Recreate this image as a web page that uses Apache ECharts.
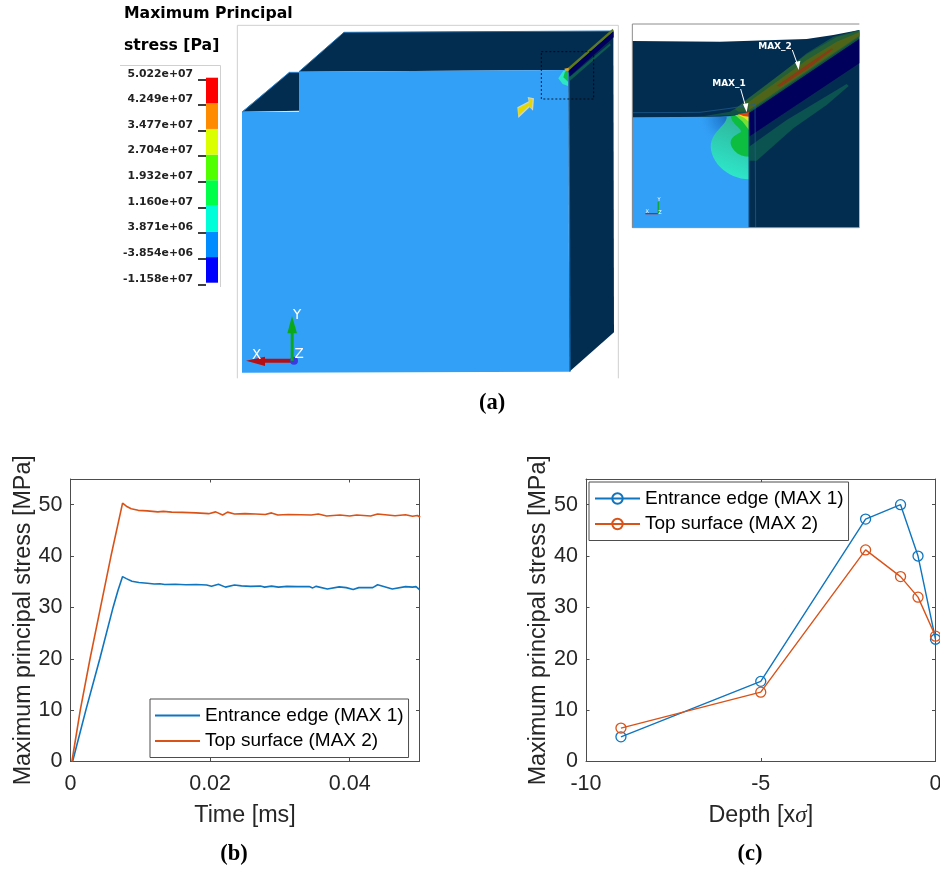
<!DOCTYPE html>
<html><head><meta charset="utf-8">
<script src="https://cdn.jsdelivr.net/npm/echarts@6/dist/echarts.min.js"></script>
<style>html,body{margin:0;padding:0;background:#fff}#c{width:940px;height:870px}</style></head>
<body><div id="c"></div>
<script>
const seriesNames = ['Entrance edge (MAX 1)', 'Top surface (MAX 2)'];
const timeEntrance = [0.0003,0.0022,0.0042,0.0061,0.0068,0.00746,0.0080,0.0088,0.0098,0.011,0.012,0.0128,0.0135,0.015,0.0165,0.018,0.0195,0.0202,0.0212,0.0222,0.0235,0.0245,0.0258,0.0272,0.0278,0.0288,0.0298,0.031,0.0325,0.0342,0.0347,0.0352,0.0368,0.0385,0.0395,0.0405,0.0413,0.0433,0.044,0.0461,0.048,0.049,0.0495,0.05];
const stressEntrance = [0,10,20,30,33.3,36,35.6,35.1,34.85,34.7,34.55,34.6,34.45,34.5,34.4,34.45,34.35,34.1,34.5,33.95,34.35,34.2,34.1,34.15,33.95,34.15,33.95,34.1,34.05,34.05,33.8,34.1,33.6,34.0,33.85,33.5,33.85,33.85,34.4,33.6,34.05,33.95,34.05,33.45];
const timeTop = [0.0002,0.0014,0.0028,0.0043,0.0058,0.00746,0.0080,0.0087,0.0097,0.011,0.0125,0.0133,0.0145,0.016,0.018,0.0198,0.0208,0.0218,0.0225,0.0235,0.025,0.0265,0.0279,0.0288,0.0297,0.0312,0.0330,0.0345,0.0355,0.0367,0.0386,0.04,0.0410,0.043,0.044,0.0465,0.048,0.049,0.0497,0.0501];
const stressTop = [0,10,20,30,40,50.3,49.7,49.2,48.9,48.8,48.6,48.7,48.55,48.5,48.4,48.25,48.6,48.0,48.55,48.2,48.25,48.2,48.1,48.4,48.0,48.1,48.05,48.0,48.2,47.8,48.0,47.8,48.0,47.8,48.2,47.85,48.05,47.75,47.9,47.55];
const depthSigma = [-9,-5,-2,-1,-0.5,0];
const depthEntrance = [4.8,15.6,47.2,50,40,23.8];
const depthTop = [6.5,13.5,41.2,36,32,24.4];
const colorbarLabels = ['-1.158e+07','-3.854e+06','3.871e+06','1.160e+07','1.932e+07','2.704e+07','3.477e+07','4.249e+07','5.022e+07'];
const colorbarColors = ['#0000ff','#008cff','#00ffd8','#00ff48','#52ff00','#dcff00','#ff8c00','#ff0000'];
const colorbarBands = [1,1,1,1,1,1,1,1];

const BLUE='#0f75bf', ORANGE='#d95319', INK='#262626', AX='#4d4d4d', SANS='"Liberation Sans",Arial,sans-serif';
const zip=(a,b)=>a.map((v,i)=>[v,b[i]]);
const depthTag='depth: ';

// ---- illustration (a): pixel helpers for main render and inset
const m=p=>p.map(([x,y])=>[230+x/3,20+y/3]);
const n=p=>p.map(([x,y])=>[620+x/3,15+y/3]);
const bez=(a,b,c,d)=>{const o=[];for(let i=0;i<=14;i++){const t=i/14,u=1-t;o.push([u*u*u*a[0]+3*u*u*t*b[0]+3*u*t*t*c[0]+t*t*t*d[0],u*u*u*a[1]+3*u*u*t*b[1]+3*u*t*t*c[1]+t*t*t*d[1]]);}return o;};
const poly=(pts,fill,extra)=>Object.assign({type:'polygon',silent:true,shape:{points:pts},style:{fill}},extra||{});
const pline=(pts,stroke,w,dash)=>({type:'polyline',silent:true,shape:{points:pts},style:{stroke,lineWidth:w,fill:null,lineDash:dash||null}});
const txt=(x,y,t,font,fill,align)=>({type:'text',silent:true,x,y,style:{text:t,font,fill:fill||'#000',align:align||'center',verticalAlign:'middle'}});
const DK='#032d50', FACE='#33a0f7', NAVY='#00005c';

const graphics=[
  // frames
  pline([[120,65.5],[220.5,65.5],[220.5,287]],'#d0d0d0',1),
  pline(m([[22,1075],[22,16],[1165,16],[1165,1075]]),'#cfcfcf',1),
  txt(124,13.5,'Maximum Principal','bold 15.7px "DejaVu Sans"','#000','left'),
  txt(124,45.5,'stress [Pa]','bold 15.7px "DejaVu Sans"','#000','left'),
  // main block
  poly(m([[36,275],[178,157],[207,157],[207,272]]),DK),
  poly(m([[207,155],[342,37],[1150,33],[1015,150]]),DK),
  poly(m([[1015,150],[1150,33],[1152,937],[1018,1055]]),DK),
  poly(m([[36,275],[207,275],[207,155],[1015,150],[1018,1055],[36,1058]]),FACE),
  pline(m([[36,277],[178,157],[207,157]]),'#2a86cf',1),
  pline(m([[207,155],[342,37],[1150,33]]),'#1f70b0',1),
  pline(m([[1017,150],[1020,1055]]),'#1a6aa8',1.2),
  // hot strip in main block
  poly(m([[1010,147],[1148,26],[1151,32],[1016,152]]),'#5f7a1c'),
  poly(m([[1016,152],[1151,34],[1151,52],[1018,170]]),NAVY),
  poly(m([[1018,172],[1140,70],[1142,76],[1020,182]]),'#0e5a50'),
  poly(m([[985,175],[1000,152],[1014,150],[1014,198],[998,192]]),'#2ee6c6'),
  poly(m([[1000,172],[1005,155],[1014,150],[1014,185]]),'#11c04a'),
  poly(m([[1003,146],[1016,143],[1016,152],[1005,152]]),'#e8a020'),
  pline(m([[934,95],[1091,95],[1091,237],[934,237],[934,95]]),'#000',0.8,[2,2]),
  // yellow arrow
  poly(m([[862,262],[896,244],[893,231],[912,235],[909,272],[899,262],[865,294]]),'#cfd6c0'),
  poly(m([[865,264],[898,247],[896,235],[908,238],[905,268],[897,258],[865,287]]),'#e4d800'),
  // triad
  poly(m([[48,1022],[105,1010],[105,1016],[186,1016],[186,1028],[105,1028],[105,1038]]),'#b40f14'),
  {type:'circle',silent:true,shape:{cx:230+192/3,cy:20+1022/3,r:4},style:{fill:'#3a3adf'}},
  poly(m([[182,1022],[182,940],[172,940],[186,888],[201,940],[191,940],[191,1022]]),'#0ca81c'),
  txt(230+201/3,20+887/3,'Y','13.5px "DejaVu Sans"','#fff'),
  txt(230+80/3,20+1005/3,'X','13.5px "DejaVu Sans"','#fff'),
  txt(230+207/3,20+1003/3,'Z','13.5px "DejaVu Sans"','#fff'),

  // inset
  poly(n([[37,78],[300,80],[560,72],[640,60],[718,45],[718,638],[37,638]]),DK),
  poly(n([[37,307],[300,305],[387,300],[387,638],[37,638]]),FACE),
  {type:'polygon',silent:true,shape:{points:n([[180,305],[325,305],[325,400],[180,400]])},
   style:{fill:{type:'radial',x:1,y:0,r:1,colorStops:[{offset:0,color:'#1668b8'},{offset:0.5,color:'rgba(34,128,214,0.6)'},{offset:1,color:'rgba(51,160,247,0)'}]}}},
  {type:'polygon',silent:true,shape:{points:n([...bez([320,305],[322,330],[272,350],[272,395]),...bez([272,395],[275,450],[330,492],[387,493]),[387,300]])},
   style:{fill:{type:'linear',x:0,y:1,x2:0.6,y2:0.1,colorStops:[{offset:0,color:'#2ef0d2'},{offset:1,color:'#2fb89e'}]}}},
  poly(n([...bez([332,302],[335,330],[368,340],[362,352]),...bez([362,352],[340,362],[325,375],[335,395]),...bez([335,395],[345,415],[365,425],[387,425]),[387,300]]),'#0dbd3f'),
  poly(n([[345,300],[387,295],[387,345],[368,320]]),'#7adf30'),
  poly(n([[352,298],[387,292],[387,320],[372,308]]),'#e6e61e'),
  // rising band along ridge
  poly(n([[240,305],[330,290],[387,255],[560,115],[640,65],[718,45],[718,72],[387,295],[340,300]]),'#0f5049'),
  poly(n([[345,283],[387,248],[560,118],[650,66],[718,47],[718,66],[387,290],[355,290]]),'#245f38'),
  poly(n([[385,262],[560,135],[650,80],[718,52],[718,62],[387,285]]),'#4f6418'),
  poly(n([[470,212],[560,150],[635,100],[640,103],[565,160],[480,215]]),'#8a3c14'),
  poly(n([[387,295],[718,72],[718,145],[387,365]]),NAVY),
  poly(n([[387,395],[500,315],[680,207],[686,213],[620,270],[520,340],[410,437],[387,437]]),'#0b5350'),
  poly(n([[355,297],[387,292],[387,305],[370,303]]),'#e8400c'),
  pline(n([[37,293],[240,292],[330,280],[405,268],[407,638]]),'#1e5f94',0.7),
  pline(n([[387,295],[387,638]]),'#0a4a7a',1),
  // inset frame
  pline(n([[37,638],[37,27],[718,27]]),'#8c8c8c',1),
  pline(n([[37,638],[718,638]]),'#8a9aa8',1),
  // inset labels
  txt(620+327/3,15+206/3,'MAX_1','bold 9px "DejaVu Sans"','#fff'),
  txt(620+465/3,15+94/3,'MAX_2','bold 9px "DejaVu Sans"','#fff'),
  pline(n([[362,222],[378,278]]),'#fff',1),
  poly(n([[369,268],[385,264],[380,292]]),'#fff'),
  pline(n([[517,105],[535,155]]),'#fff',1),
  poly(n([[525,142],[541,137],[536,165]]),'#fff'),
  // inset triad
  pline(n([[76,596],[115,596]]),'#c0181c',1.2),
  pline(n([[115,596],[115,560]]),'#12a838',1.6),
  txt(620+117/3,15+555/3,'Y','5px "DejaVu Sans"','#fff'),
  txt(620+82/3,15+591/3,'X','5px "DejaVu Sans"','#fff'),
  txt(620+120/3,15+592/3,'Z','5px "DejaVu Sans"','#fff'),
  // captions
  txt(492,403,'(a)','bold 22.5px "Liberation Serif"','#000'),
  txt(234,854,'(b)','bold 22.5px "Liberation Serif"','#000'),
  txt(750,854,'(c)','bold 22.5px "Liberation Serif"','#000')
];

const axisStyle={lineStyle:{color:AX,width:1}};
const mainLabel={color:INK,fontSize:21.5,fontFamily:SANS};
function xMain(gi,min,max,interval,name,extra){
  return Object.assign({type:'value',gridIndex:gi,min,max,interval,name,nameLocation:'middle',nameGap:43,
    nameTextStyle:{color:INK,fontSize:23.3,fontFamily:SANS},position:'bottom',
    axisLine:Object.assign({onZero:false,show:true},axisStyle),
    axisTick:{show:true,inside:true,length:3.5,lineStyle:{color:AX}},
    axisLabel:Object.assign({margin:12,showMaxLabel:false,hideOverlap:false},mainLabel),splitLine:{show:false}},extra||{});
}
function yMain(gi,name){
  return {type:'value',gridIndex:gi,min:0,max:55,interval:10,name,nameLocation:'middle',nameGap:34.5,
    nameTextStyle:{color:INK,fontSize:23.3,fontFamily:SANS},position:'left',
    axisLine:Object.assign({onZero:false,show:true},axisStyle),
    axisTick:{show:true,inside:true,length:3.5,lineStyle:{color:AX}},
    axisLabel:Object.assign({margin:8,showMaxLabel:false},mainLabel),splitLine:{show:false}};
}
const xTwin=(gi,min,max,interval)=>({type:'value',gridIndex:gi,min,max,interval,position:'top',
  axisLine:Object.assign({onZero:false,show:true},axisStyle),axisTick:{show:true,inside:true,length:3.5,lineStyle:{color:AX}},axisLabel:{show:false},splitLine:{show:false}});
const yTwin=gi=>({type:'value',gridIndex:gi,min:0,max:55,interval:10,position:'right',
  axisLine:Object.assign({onZero:false,show:true},axisStyle),axisTick:{show:true,inside:true,length:3.5,lineStyle:{color:AX}},axisLabel:{show:false},splitLine:{show:false}});
const legendBase=(left,top,names,fmt,extra)=>Object.assign({left,top,orient:'vertical',data:names,itemWidth:45,itemHeight:13,itemGap:6.5,align:'left',
  padding:[7,5,7,5],borderColor:AX,borderWidth:1,backgroundColor:'#fff',selectedMode:false,
  textStyle:{color:'#000',fontSize:19,fontFamily:SANS,lineHeight:18},formatter:fmt||(s=>s)},extra||{});

const lineSeries=(name,xi,yi,data,color)=>({name,type:'line',xAxisIndex:xi,yAxisIndex:yi,data,showSymbol:false,symbol:'none',
  lineStyle:{color,width:1.6},itemStyle:{color},animation:false,z:3});
const markerSeries=(name,xi,yi,data,color)=>({name,type:'line',xAxisIndex:xi,yAxisIndex:yi,data,symbol:'circle',symbolSize:10,showSymbol:true,clip:false,
  lineStyle:{color,width:1.4},itemStyle:{color:'rgba(255,255,255,0)',borderColor:color,borderWidth:1.3},animation:false,z:3});

const option={
  animation:false,backgroundColor:'#fff',
  grid:[
    {left:70.5,top:479,width:349,height:282.5,outerBoundsMode:'none'},
    {left:586,top:479,width:349.5,height:282.5,outerBoundsMode:'none'},
    {left:206,top:77.7,width:12,height:205,outerBoundsMode:'none'},
    {left:206,top:79.3,width:12,height:205,outerBoundsMode:'none'}
  ],
  xAxis:[
    xMain(0,0,0.05,0.02,'Time [ms]'),
    xTwin(0,0,0.05,0.02),
    xMain(1,-10,0,5,'{a|Depth [x}{b|σ}{a|]}',{axisLabel:Object.assign({margin:12,showMaxLabel:true},mainLabel),
      nameTextStyle:{color:INK,fontFamily:SANS,rich:{a:{fontSize:23.3,color:INK,fontFamily:SANS},b:{fontSize:23.3,color:INK,fontStyle:'italic',fontFamily:'"Liberation Serif"'}}}}),
    xTwin(1,-10,0,5),
    {type:'category',gridIndex:2,data:['stress'],show:false},
    {type:'category',gridIndex:3,data:['stress'],show:false}
  ],
  yAxis:[
    yMain(0,'Maximum principal stress [MPa]'),
    yTwin(0),
    yMain(1,'Maximum principal stress [MPa]'),
    yTwin(1),
    {type:'value',gridIndex:2,min:0,max:8,interval:1,show:false},
    {type:'value',gridIndex:3,min:0,max:8,interval:1,
      axisLine:{show:false},axisTick:{show:true,length:8,lineStyle:{color:'#000',width:1.5}},splitLine:{show:false},
      axisLabel:{formatter:(v)=>colorbarLabels[Math.round(v)],margin:13,color:'#222',fontFamily:'"DejaVu Sans"',fontWeight:'bold',fontSize:10.8,verticalAlign:'bottom',align:'right'}}
  ],
  legend:[
    legendBase(150,699,seriesNames,null,{icon:'rect',itemHeight:2}),
    legendBase(589,482,seriesNames.map(s=>depthTag+s),s=>s.replace(depthTag,''))
  ],
  series:[
    lineSeries(seriesNames[0],0,0,zip(timeEntrance,stressEntrance),BLUE),
    lineSeries(seriesNames[1],0,0,zip(timeTop,stressTop),ORANGE),
    markerSeries(depthTag+seriesNames[0],2,2,zip(depthSigma,depthEntrance),BLUE),
    markerSeries(depthTag+seriesNames[1],2,2,zip(depthSigma,depthTop),ORANGE),
    ...colorbarBands.map((v,i)=>({type:'bar',name:'band'+i,stack:'cb',xAxisIndex:4,yAxisIndex:4,barWidth:'100%',data:[v],
      itemStyle:{color:colorbarColors[i]},animation:false,silent:true}))
  ],
  graphic:{elements:graphics}
};
const chart=echarts.init(document.getElementById('c'),null,{renderer:'canvas'});
chart.setOption(option);
</script></body></html>
